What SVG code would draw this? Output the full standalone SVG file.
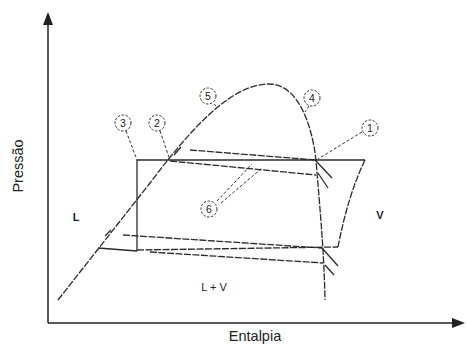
<svg xmlns="http://www.w3.org/2000/svg" width="466" height="345" viewBox="0 0 466 345">
<defs>
<style>
.ax{stroke:#222;stroke-width:1.5;fill:none}
.ln{stroke:#2a2a2a;stroke-width:1.3;fill:none}
.ds{stroke:#2a2a2a;stroke-width:1.3;fill:none;stroke-dasharray:7 1.5}
.dd{stroke:#333;stroke-width:1;fill:none;stroke-dasharray:3 2}
.cir{stroke:#333;stroke-width:1;fill:#fff;stroke-dasharray:2.5 1.5}
.num{font-family:"Liberation Sans",Arial,sans-serif;font-size:10.5px;fill:#222;text-anchor:middle}
.lab{font-family:"Liberation Sans",Arial,sans-serif;font-size:14.5px;fill:#222}
.reg{font-family:"Liberation Sans",Arial,sans-serif;font-size:11px;fill:#222;font-weight:bold}
</style>
</defs>
<g id="axes">
<line class="ax" x1="48" y1="24" x2="48" y2="323"/>
<polygon points="48,12 43,25 53,25" fill="#222"/>
<line class="ax" x1="48" y1="323" x2="453" y2="323"/>
<polygon points="465,323 452,318 452,328" fill="#222"/>
<text class="lab" transform="translate(23,166) rotate(-90)" text-anchor="middle">Pressão</text>
<text class="lab" x="255" y="341" text-anchor="middle">Entalpia</text>
</g>
<g id="dome">
<path class="ds" d="M58,300 L150,183 C190,130 230,85 268,84 C298,83 312,125 316,160 C320,210 324,250 325,300"/>
</g>
<g id="connectors">
<line class="ln" x1="137" y1="160" x2="365" y2="160"/>
<line class="ln" x1="137" y1="160" x2="137" y2="251"/>
<path class="ds" d="M365,160 Q348,195 338,247"/>
<line class="ln" x1="98" y1="248" x2="137" y2="251"/>
<line class="ds" x1="137" y1="250" x2="338" y2="247"/>
<line class="ds" x1="170" y1="161" x2="316" y2="175"/>
<line class="ds" x1="190" y1="150" x2="316" y2="160"/>
<path class="ln" d="M181,147 L174,155"/>
<line class="ds" x1="123" y1="235" x2="322" y2="248"/>
<line class="ds" x1="150" y1="252" x2="323" y2="263"/>
<path class="ln" d="M111,230 L105,236"/>
<line class="ln" x1="316" y1="161" x2="332" y2="178"/>
<line class="ln" x1="318" y1="173" x2="328" y2="188"/>
<line class="ln" x1="322" y1="248" x2="338" y2="266"/>
<line class="ln" x1="325" y1="265" x2="334" y2="275"/>
<line class="dd" x1="126" y1="131" x2="137" y2="160"/>
<line class="dd" x1="160" y1="131" x2="170" y2="160"/>
<line class="dd" x1="214" y1="104" x2="218" y2="108"/>
<line class="dd" x1="309" y1="106" x2="305" y2="112"/>
<line class="dd" x1="362" y1="132" x2="318" y2="159"/>
<line class="dd" x1="217" y1="201" x2="252" y2="164"/>
<line class="dd" x1="221" y1="203" x2="262" y2="168"/>
</g>
<g id="n3"><circle class="cir" cx="123" cy="123" r="8"/><text class="num" x="123" y="127">3</text></g>
<g id="n2"><circle class="cir" cx="157" cy="123" r="8"/><text class="num" x="157" y="127">2</text></g>
<g id="n5"><circle class="cir" cx="208" cy="96" r="8"/><text class="num" x="208" y="100">5</text></g>
<g id="n4"><circle class="cir" cx="312" cy="98" r="8"/><text class="num" x="312" y="102">4</text></g>
<g id="n1"><circle class="cir" cx="370" cy="128" r="8"/><text class="num" x="370" y="132">1</text></g>
<g id="n6"><circle class="cir" cx="209" cy="209" r="8"/><text class="num" x="209" y="213">6</text></g>
<g id="regions">
<text class="reg" x="76" y="221" text-anchor="middle">L</text>
<text class="reg" x="380" y="219" text-anchor="middle">V</text>
<text class="num" x="214" y="291" style="font-size:11px">L + V</text>
</g>
</svg>
